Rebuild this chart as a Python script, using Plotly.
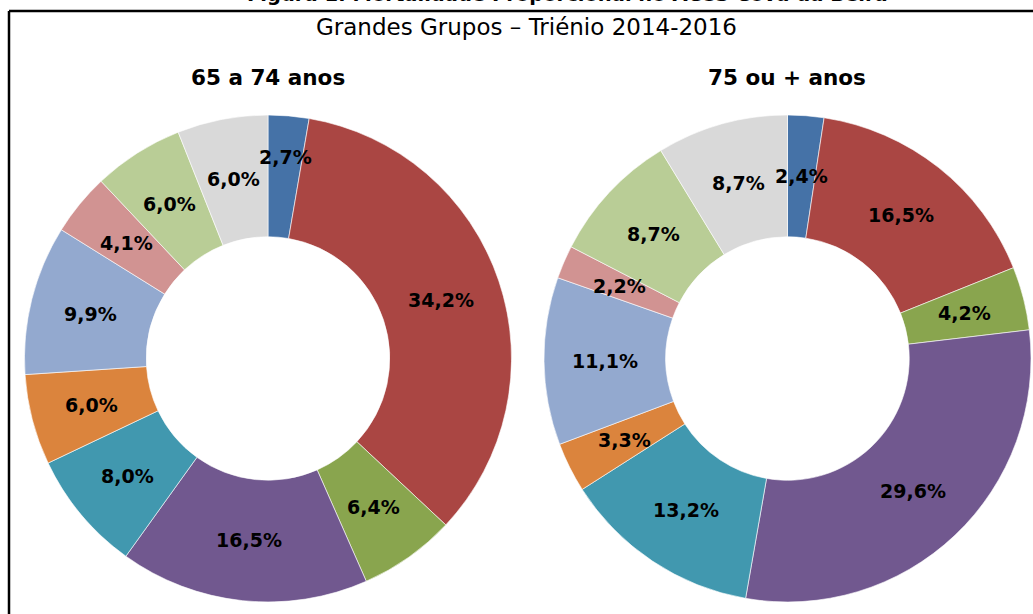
import math
import plotly.graph_objects as go

W, H = 1033, 614
OFF = 0  # body margin removed by post_script below

categories = ["Grupo 1", "Grupo 2", "Grupo 3", "Grupo 4", "Grupo 5",
              "Grupo 6", "Grupo 7", "Grupo 8", "Grupo 9", "Grupo 10"]
values_65_74 = [2.7, 34.2, 6.4, 16.5, 8.0, 6.0, 9.9, 4.1, 6.0, 6.0]
values_75_plus = [2.4, 16.5, 4.2, 29.6, 13.2, 3.3, 11.1, 2.2, 8.7, 8.7]
colors = ["#4572A7", "#AA4643", "#89A54E", "#71588F", "#4198AF",
          "#DB843D", "#93A9CF", "#D19392", "#B9CD96", "#D9D9D9"]

title_main = "Figura 1: Mortalidade Proporcional no ACeS Cova da Beira"
subtitle = "Grandes Grupos – Triénio 2014-2016"
panel_titles = ["65 a 74 anos", "75 ou + anos"]

FONT = "DejaVu Sans"
LABEL_SIZE = 19
HOLE = 0.5


def px_x(p):
    return (p - OFF) / W


def px_y(p):
    return 1 - (p - OFF) / H


def fmt(v):
    return f"{v:.1f}%".replace(".", ",")


def label_positions(vals, cx, cy, r_out, hole):
    """Excel-like label placement: centre of the ring, pushed outward on overlap."""
    total = sum(vals)
    r_mid = r_out * (1 + hole) / 2
    cum = 0.0
    info = []
    for v in vals:
        ang = (cum + v / 2) / total * 2 * math.pi
        cum += v
        info.append({"ang": ang, "r": r_mid, "v": v,
                     "w": len(fmt(v)) * LABEL_SIZE * 0.74, "h": LABEL_SIZE * 1.1})

    def xy(d):
        return cx + d["r"] * math.sin(d["ang"]), cy - d["r"] * math.cos(d["ang"])

    for _ in range(200):
        moved = False
        for i in range(len(info)):
            for j in range(i + 1, len(info)):
                a, b = info[i], info[j]
                ax, ay = xy(a)
                bx, by = xy(b)
                if abs(ax - bx) < (a["w"] + b["w"]) / 2 and abs(ay - by) < (a["h"] + b["h"]) / 2:
                    small = a if a["v"] <= b["v"] else b
                    small["r"] += 2
                    moved = True
        if not moved:
            break
    return [xy(d) for d in info]


fig = go.Figure()

# pie geometry in reference pixels: (left, right, top, bottom)
boxes = [(24.5, 511.5, 115.0, 602.0), (544.0, 1031.0, 115.0, 602.0)]
annotations = []
for vals, (x0, x1, y0, y1) in zip([values_65_74, values_75_plus], boxes):
    fig.add_trace(go.Pie(
        labels=categories,
        values=vals,
        sort=False,
        direction="clockwise",
        rotation=0,
        hole=HOLE,
        marker=dict(colors=colors, line=dict(color="white", width=0.6)),
        textinfo="none",
        domain=dict(x=[px_x(x0), px_x(x1)], y=[px_y(y1), px_y(y0)]),
        showlegend=False,
        hoverinfo="label+value",
    ))
    cx, cy = (x0 + x1) / 2, (y0 + y1) / 2
    r_out = min(x1 - x0, y1 - y0) / 2
    for v, (lx, ly) in zip(vals, label_positions(vals, cx, cy, r_out, HOLE)):
        annotations.append(dict(
            text="<b>" + fmt(v) + "</b>", x=px_x(lx), y=px_y(ly),
            xanchor="center", yanchor="middle", showarrow=False,
            font=dict(family=FONT, size=LABEL_SIZE, color="black")))

annotations += [
    dict(text="<b>" + title_main + "</b>", x=px_x(567), y=px_y(8),
         xanchor="center", yanchor="bottom", showarrow=False,
         font=dict(family=FONT, size=19.5, color="black")),
    dict(text=subtitle, x=px_x(526), y=px_y(27),
         xanchor="center", yanchor="middle", showarrow=False,
         font=dict(family=FONT, size=23, color="black")),
    dict(text="<b>" + panel_titles[0] + "</b>", x=px_x(268), y=px_y(77),
         xanchor="center", yanchor="middle", showarrow=False,
         font=dict(family=FONT, size=21.5, color="black")),
    dict(text="<b>" + panel_titles[1] + "</b>", x=px_x(787), y=px_y(77),
         xanchor="center", yanchor="middle", showarrow=False,
         font=dict(family=FONT, size=21.5, color="black")),
]

shapes = [
    dict(type="line", xref="paper", yref="paper",
         x0=px_x(9), x1=1.05, y0=px_y(11), y1=px_y(11),
         line=dict(color="black", width=2.5)),
    dict(type="line", xref="paper", yref="paper",
         x0=px_x(9), x1=px_x(9), y0=px_y(11), y1=-0.05,
         line=dict(color="black", width=2.5)),
]

fig.update_layout(
    width=W, height=H,
    margin=dict(l=0, r=0, t=0, b=0),
    paper_bgcolor="white",
    plot_bgcolor="white",
    annotations=annotations,
    shapes=shapes,
    font=dict(family=FONT),
)

fig.write_html(
    "out.html",
    config={"displayModeBar": False},
    post_script="document.body.style.margin='0';document.body.style.overflow='hidden';",
)
